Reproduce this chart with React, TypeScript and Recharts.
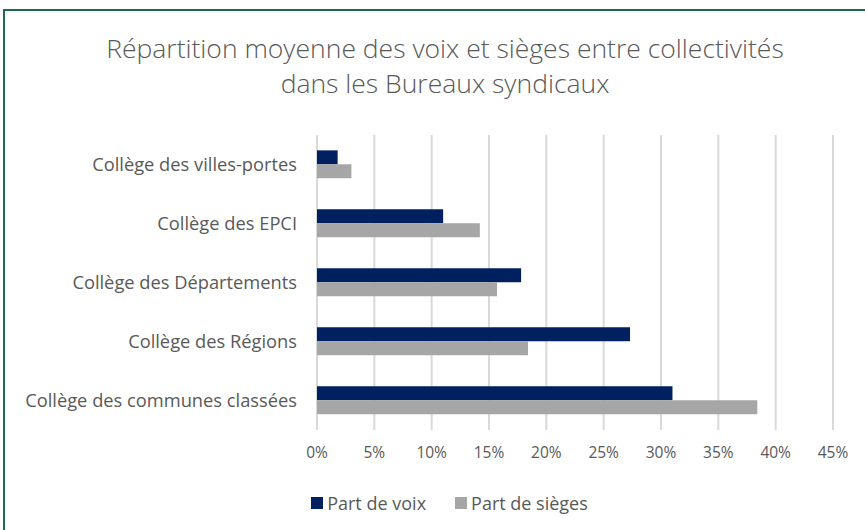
import React from 'react';
import {
  BarChart,
  Bar,
  XAxis,
  YAxis,
  CartesianGrid,
  Legend,
} from 'recharts';

// catégories, de haut en bas
const colleges = [
  'Collège des villes-portes',
  'Collège des EPCI',
  'Collège des Départements',
  'Collège des Régions',
  'Collège des communes classées',
];

const partVoix = [0.018, 0.11, 0.178, 0.273, 0.31];
const partSieges = [0.03, 0.142, 0.157, 0.184, 0.384];

const xTicks = [0, 0.05, 0.1, 0.15, 0.2, 0.25, 0.3, 0.35, 0.4, 0.45];

const series = [
  { key: 'Part de voix', color: '#002060' },
  { key: 'Part de sièges', color: '#a6a6a6' },
];

const data = colleges.map((name, i) => ({
  name,
  'Part de voix': partVoix[i],
  'Part de sièges': partSieges[i],
}));

const FONT = '"Open Sans", Lato, sans-serif';
const GREY = '#595959';

// légende dans l'ordre des séries (la légende par défaut trie par nom)
function LegendContent() {
  return (
    <div style={{ display: 'flex', justifyContent: 'center', gap: 29, paddingLeft: 66 }}>
      {series.map((s) => (
        <div key={s.key} style={{ display: 'flex', alignItems: 'center' }}>
          <span
            style={{
              display: 'inline-block',
              width: 12,
              height: 12,
              background: s.color,
              marginRight: 4,
            }}
          />
          <span style={{ color: GREY, fontSize: 18 }}>{s.key}</span>
        </div>
      ))}
    </div>
  );
}

export default function App() {
  return (
    <div
      style={{
        position: 'absolute',
        left: 0,
        top: 0,
        width: 865,
        height: 530,
        overflow: 'hidden',
        background: '#fff',
        fontFamily: FONT,
      }}
    >
      {/* cadre vert */}
      <div
        style={{
          position: 'absolute',
          left: 3,
          top: 9,
          width: 900,
          height: 600,
          border: '2px solid #1c6a4f',
        }}
      />

      {/* titre */}
      <div
        style={{
          position: 'absolute',
          left: 0,
          top: 31,
          width: 890,
          textAlign: 'center',
          fontSize: 26.5,
          lineHeight: '35px',
          color: GREY,
          fontWeight: 300,
        }}
      >
        Répartition moyenne des voix et sièges entre collectivités
        <br />
        dans les Bureaux syndicaux
      </div>

      <div style={{ position: 'absolute', left: 0, top: 0 }}>
        <BarChart
          width={865}
          height={530}
          data={data}
          layout="vertical"
          barCategoryGap="26%"
          barGap={0}
          margin={{ top: 135, right: 32, left: 0, bottom: 4 }}
        >
          <CartesianGrid horizontal={false} stroke="#d9d9d9" strokeWidth={2} />
          <XAxis
            type="number"
            domain={[0, 0.45]}
            ticks={xTicks}
            tickFormatter={(v: number) => `${Math.round(v * 100)}%`}
            axisLine={false}
            tickLine={false}
            tickSize={0}
            tickMargin={17}
            height={61}
            tick={{ fill: GREY, fontSize: 15.5, fontFamily: FONT }}
          />
          <YAxis
            type="category"
            dataKey="name"
            width={317}
            axisLine={false}
            tickLine={false}
            tickSize={0}
            tickMargin={20}
            tick={{ fill: GREY, fontSize: 18.3, fontFamily: FONT }}
          />
          <Legend
            verticalAlign="bottom"
            height={35}
            content={() => <LegendContent />}
            wrapperStyle={{ fontFamily: FONT }}
          />
          {series.map((s) => (
            <Bar key={s.key} dataKey={s.key} fill={s.color} isAnimationActive={false} />
          ))}
        </BarChart>
      </div>
    </div>
  );
}
